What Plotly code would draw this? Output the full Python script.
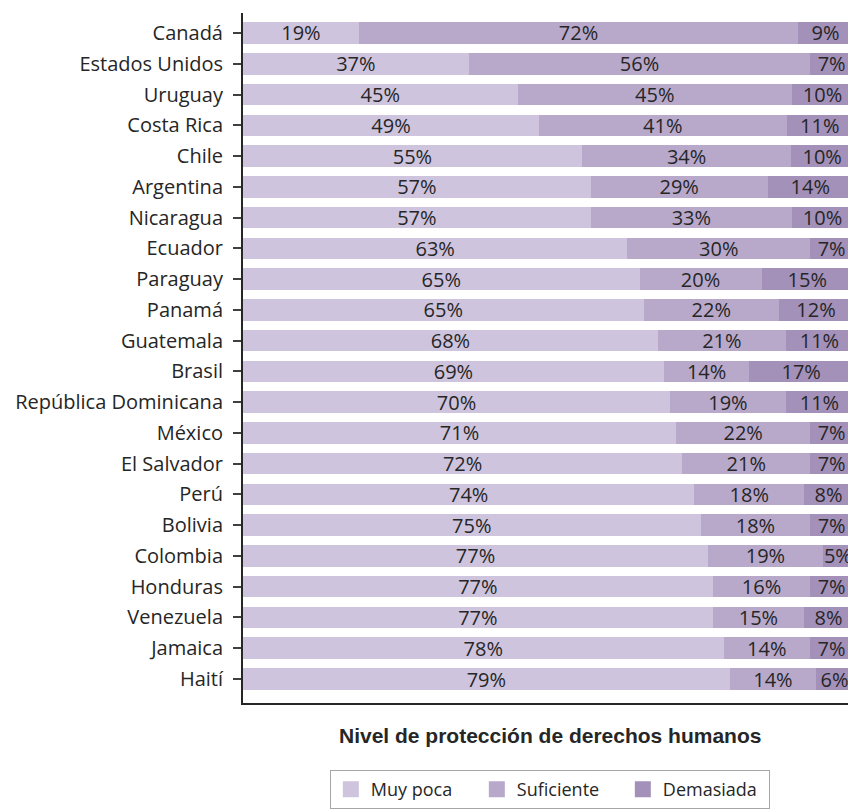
import plotly.graph_objects as go

countries = ["Canadá", "Estados Unidos", "Uruguay", "Costa Rica", "Chile", "Argentina",
             "Nicaragua", "Ecuador", "Paraguay", "Panamá", "Guatemala", "Brasil",
             "República Dominicana", "México", "El Salvador", "Perú", "Bolivia",
             "Colombia", "Honduras", "Venezuela", "Jamaica", "Haití"]
muy_poca = [19, 37, 45, 49, 55, 57, 57, 63, 65, 65, 68, 69, 70, 71, 72, 74, 75, 77, 77, 77, 78, 79]
suficiente = [72, 56, 45, 41, 34, 29, 33, 30, 20, 22, 21, 14, 19, 22, 21, 18, 18, 19, 16, 15, 14, 14]
demasiada = [9, 7, 10, 11, 10, 14, 10, 7, 15, 12, 11, 17, 11, 7, 7, 8, 7, 5, 7, 8, 7, 6]

series_names = ["Muy poca", "Suficiente", "Demasiada"]
series_values = [muy_poca, suficiente, demasiada]
series_colors = ["#CEC4DD", "#B8A9CB", "#A491BA"]

FONT = "Open Sans"
TXT = "#262626"

fig = go.Figure()
for name, vals, col in zip(series_names, series_values, series_colors):
    fig.add_trace(go.Bar(
        y=countries, x=vals, name=name, orientation="h", showlegend=False,
        marker=dict(color=col, line=dict(width=0)),
        text=[f"{v}%" for v in vals], textposition="inside",
        insidetextanchor="middle", textangle=0, constraintext="none",
        textfont=dict(family=FONT, size=20, color=TXT),
        hoverinfo="skip",
    ))
# legend entries with larger square swatches
for name, col in zip(series_names, series_colors):
    fig.add_trace(go.Scatter(
        x=[None], y=[None], mode="markers", name=name,
        marker=dict(symbol="square", size=20, color=col, line=dict(width=0)),
        hoverinfo="skip",
    ))

fig.update_layout(
    barmode="stack", barnorm="percent", bargap=0.30,
    width=848, height=801,
    margin=dict(l=235, r=3, t=5, b=106, autoexpand=False),
    plot_bgcolor="white", paper_bgcolor="white",
    font=dict(family=FONT, size=18, color=TXT),
    showlegend=True,
    legend=dict(orientation="h", x=0.503, xanchor="center", y=-0.0971, yanchor="top",
                bordercolor="#A6A6A6", borderwidth=1, traceorder="normal",
                font=dict(family=FONT, size=18, color=TXT),
                entrywidth=101, entrywidthmode="pixels", itemsizing="trace"),
    uniformtext=dict(minsize=20, mode="show"),
)
fig.update_xaxes(range=[0, 100], showticklabels=False, ticks="", showgrid=False,
                 zeroline=False, showline=True, linecolor="#262626", linewidth=2,
                 automargin=False)
fig.update_yaxes(categoryorder="array", categoryarray=countries, autorange=False,
                 range=[len(countries) - 1 + 0.78, -0.65],
                 showgrid=False, zeroline=False, showline=True, linecolor="#262626", linewidth=2,
                 ticks="outside", ticklen=8, tickcolor="#404040", tickwidth=1.5,
                 ticklabelstandoff=6, automargin=False,
                 tickfont=dict(family=FONT, size=20, color=TXT))

fig.add_annotation(text="<b>Nivel de protección de derechos humanos</b>",
                   xref="paper", yref="paper", x=0.503, y=-0.0464, xanchor="center",
                   yanchor="middle", showarrow=False,
                   font=dict(family="Liberation Sans, Arial", size=21, color=TXT))

fig.write_html("out.html")
